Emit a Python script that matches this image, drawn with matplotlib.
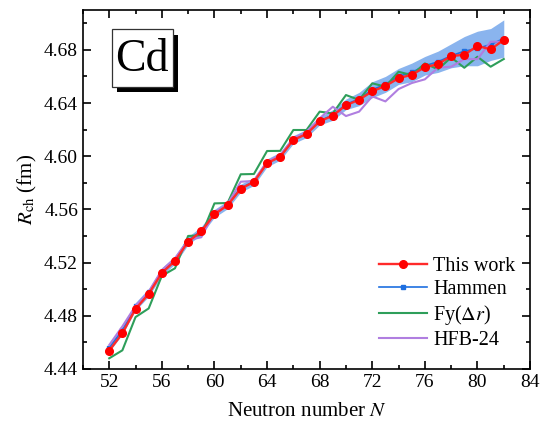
import numpy as np
import matplotlib
matplotlib.use("Agg")
import matplotlib.pyplot as plt
from matplotlib import patheffects
from matplotlib.patches import Rectangle
from matplotlib.ticker import MultipleLocator, FormatStrFormatter

plt.rcParams['font.family'] = ['Liberation Serif', 'DejaVu Serif']
plt.rcParams['mathtext.fontset'] = 'stix'

N = np.arange(52, 83)

this_work = [4.4538, 4.4668, 4.4851, 4.4964, 4.5122, 4.5212, 4.5357, 4.5435,
             4.5563, 4.5631, 4.5756, 4.5806, 4.5947, 4.5996, 4.6122, 4.6167,
             4.6262, 4.6305, 4.6383, 4.6425, 4.6488, 4.6528, 4.6586, 4.6613,
             4.6668, 4.6693, 4.6753, 4.6763, 4.6829, 4.6804, 4.6874]

hammen = [4.4560, 4.4690, 4.4870, 4.4975, 4.5130, 4.5220, 4.5365, 4.5440,
          4.5570, 4.5635, 4.5760, 4.5810, 4.5950, 4.6000, 4.6125, 4.6170,
          4.6265, 4.6310, 4.6390, 4.6430, 4.6500, 4.6540, 4.6600, 4.6630,
          4.6680, 4.6710, 4.6755, 4.6790, 4.6810, 4.6840, 4.6885]

hammen_err = [0.003, 0.003, 0.003, 0.003, 0.003, 0.003, 0.003, 0.003,
              0.003, 0.003, 0.003, 0.003, 0.003, 0.003, 0.003, 0.003,
              0.003, 0.004, 0.004, 0.005, 0.006, 0.006, 0.006, 0.007,
              0.007, 0.008, 0.009, 0.011, 0.013, 0.012, 0.014]

fy_dr = [4.4480, 4.4540, 4.4790, 4.4855, 4.5100, 4.5157, 4.5400, 4.5405,
         4.5645, 4.5648, 4.5864, 4.5866, 4.6039, 4.6040, 4.6197, 4.6197,
         4.6335, 4.6322, 4.6460, 4.6423, 4.6548, 4.6523, 4.6635, 4.6610,
         4.6698, 4.6653, 4.6743, 4.6665, 4.6748, 4.6673, 4.6731]

hfb24 = [4.4580, 4.4720, 4.4874, 4.4980, 4.5144, 4.5232, 4.5370, 4.5390,
         4.5578, 4.5640, 4.5808, 4.5814, 4.5959, 4.6009, 4.6135, 4.6184,
         4.6285, 4.6372, 4.6302, 4.6335, 4.6450, 4.6412, 4.6505, 4.6550,
         4.6578, 4.6666, 4.6673, 4.6730, 4.6730, 4.6861, 4.6861]

hm = np.array(hammen)
he = np.array(hammen_err)

fig = plt.figure(figsize=(5.42, 4.32), dpi=100)
ax = fig.add_axes([0.153, 0.146, 0.825, 0.831])

ax.fill_between(N, hm - he, hm + he, color='#8ab4ee', lw=0, zorder=1)
ax.plot(N, hammen, color='#1e6fe0', lw=1.2, marker='s', ms=3, label='Hammen', zorder=2)
ax.plot(N, fy_dr, color='#2e9e5a', lw=1.5, label=r'Fy($\Delta r$)', zorder=3)
ax.plot(N, hfb24, color='#b07ee0', lw=1.5, label='HFB-24', zorder=3)
ax.plot(N, this_work, color='#ff2a2a', lw=1.7, marker='o', ms=5.5,
        mfc='red', mec='red', label='This work', zorder=4)

ax.set_xlim(50, 84)
ax.set_ylim(4.44, 4.71)
ax.xaxis.set_major_locator(MultipleLocator(4))
ax.xaxis.set_minor_locator(MultipleLocator(2))
ax.yaxis.set_major_locator(MultipleLocator(0.04))
ax.yaxis.set_minor_locator(MultipleLocator(0.02))
ax.yaxis.set_major_formatter(FormatStrFormatter('%.2f'))
ax.tick_params(which='both', direction='in', top=True, right=True, labelsize=14, width=1.2)
ax.tick_params(which='major', length=6)
ax.tick_params(which='minor', length=3)
for s in ax.spines.values():
    s.set_linewidth(1.2)

ax.set_xlabel(r'Neutron number $N$', fontsize=15, labelpad=8)
ax.set_ylabel(r'$R_{\rm ch}$ (fm)', fontsize=15, labelpad=4)

h, l = ax.get_legend_handles_labels()
order = [3, 0, 1, 2]
ax.legend([h[i] for i in order], [l[i] for i in order], loc='lower right',
          bbox_to_anchor=(0.985, 0.03), borderaxespad=0, frameon=False,
          fontsize=14.5, handlelength=2.4, labelspacing=0.2, handletextpad=0.3)

# element label box with drop shadow
box = Rectangle((0.064, 0.785), 0.137, 0.161, transform=ax.transAxes,
                fc='white', ec='#333333', lw=0.9, zorder=6)
box.set_path_effects([
    patheffects.SimplePatchShadow(offset=(3.8, -3.8), shadow_rgbFace='black', alpha=1),
    patheffects.Normal()])
ax.add_patch(box)
ax.text(0.132, 0.862, 'Cd', transform=ax.transAxes, fontsize=33,
        ha='center', va='center', zorder=7)

fig.savefig('out.png', dpi=100)
